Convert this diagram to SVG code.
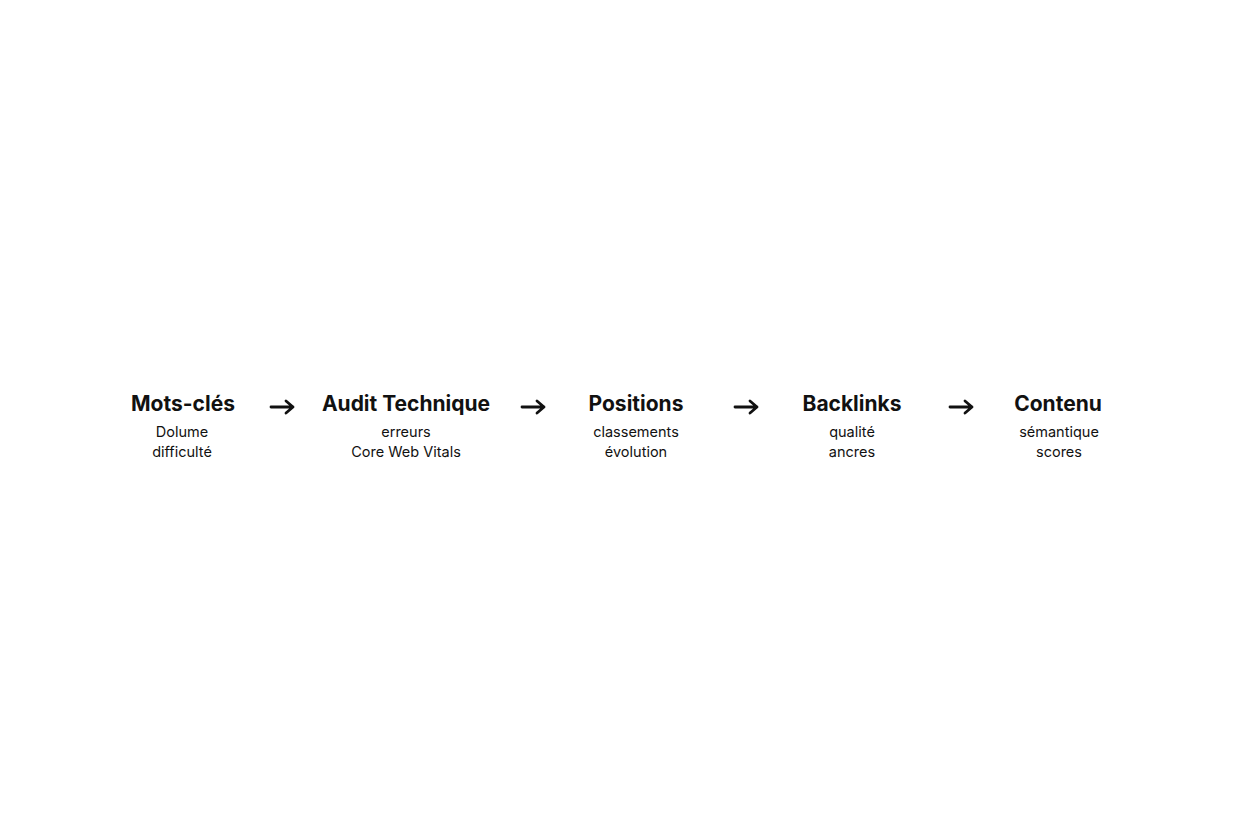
<svg xmlns="http://www.w3.org/2000/svg" width="1248" height="832" viewBox="0 0 1248 832">
<style>
.t{font-family:Inter,"Noto Sans",sans-serif;font-weight:700;font-size:21px;fill:#111;text-anchor:middle}
.s{font-family:Inter,"Noto Sans",sans-serif;font-weight:400;font-size:14.5px;fill:#111;text-anchor:middle}
.a{fill:none;stroke:#111;stroke-width:2.8;stroke-linecap:round;stroke-linejoin:round}
</style>
<rect width="1248" height="832" fill="#fff"/>
<g id="n1"><text class="t" x="183" y="411">Mots-clés</text><text class="s" x="182" y="437">Dolume</text><text class="s" x="182" y="457">difficulté</text></g>
<g id="n2"><text class="t" x="406" y="411">Audit Technique</text><text class="s" x="406" y="437">erreurs</text><text class="s" x="406" y="457">Core Web Vitals</text></g>
<g id="n3"><text class="t" x="636" y="411">Positions</text><text class="s" x="636" y="437">classements</text><text class="s" x="636" y="457">évolution</text></g>
<g id="n4"><text class="t" x="852" y="411">Backlinks</text><text class="s" x="852" y="437">qualité</text><text class="s" x="852" y="457">ancres</text></g>
<g id="n5"><text class="t" x="1058" y="411">Contenu</text><text class="s" x="1059" y="437">sémantique</text><text class="s" x="1059" y="457">scores</text></g>
<g id="connectors">
<path class="a" d="M271 407H293M286 401L293 407L286 413"/>
<path class="a" d="M522 407H544M537 401L544 407L537 413"/>
<path class="a" d="M735 407H757M750 401L757 407L750 413"/>
<path class="a" d="M950 407H972M965 401L972 407L965 413"/>
</g>
</svg>
